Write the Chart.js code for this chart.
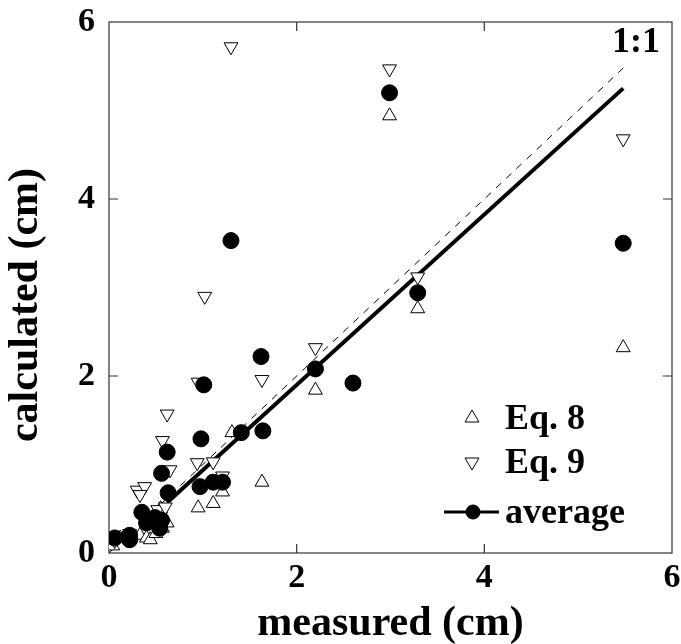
<!DOCTYPE html>
<html>
<head>
<meta charset="utf-8">
<script src="https://cdn.jsdelivr.net/npm/chart.js@4"></script>
<style>
  body { margin: 0; background: #fff; }
  #wrap { width: 681px; height: 644px; }
</style>
</head>
<body>
<div id="wrap"><canvas id="grafico" width="681" height="644"></canvas></div>
<script>
var ctx = document.getElementById('grafico').getContext('2d');

// valores (cm)
var eq8X = [0.04, 0.12, 0.33, 0.40, 0.44, 0.50, 0.57, 0.62, 0.55, 0.95, 1.11, 1.21, 1.31, 1.63, 1.62, 2.20, 2.60, 2.99, 3.29, 5.48];
var eq8Y = [0.08, 0.17, 0.20, 0.17, 0.15, 0.22, 0.28, 0.34, 0.50, 0.51, 0.56, 0.69, 1.36, 0.80, 2.22, 1.84, 1.92, 4.94, 2.76, 2.32];

var eq9X = [0.06, 0.22, 0.30, 0.38, 0.33, 0.52, 0.60, 0.65, 0.57, 0.62, 0.95, 0.94, 1.11, 1.21, 1.02, 1.30, 1.63, 1.62, 2.20, 2.60, 2.99, 3.29, 5.48];
var eq9Y = [0.14, 0.22, 0.71, 0.75, 0.66, 0.49, 0.52, 0.94, 1.27, 1.57, 1.93, 1.02, 1.03, 0.87, 2.90, 5.72, 1.96, 2.22, 2.32, 1.92, 5.47, 3.12, 4.68];

var avgX = [0.06, 0.22, 0.22, 0.35, 0.40, 0.49, 0.56, 0.54, 0.63, 0.56, 0.62, 0.97, 1.11, 1.21, 0.98, 1.01, 1.30, 1.41, 1.64, 1.62, 2.20, 2.60, 2.99, 3.29, 5.48];
var avgY = [0.17, 0.15, 0.20, 0.46, 0.34, 0.40, 0.37, 0.28, 0.68, 0.90, 1.14, 0.75, 0.80, 0.80, 1.29, 1.90, 3.53, 1.36, 1.38, 2.22, 2.08, 1.92, 5.20, 2.94, 3.50];

// reta ajustada e reta 1:1
var fitX = [0.62, 5.48];
var fitY = [0.57, 5.25];
var oneX = [0, 5.5];
var oneY = [0, 5.5];

var tickVals = [0, 2, 4, 6];
var legendLabels = ['Eq. 8', 'Eq. 9', 'average'];
var yTitle = 'calculated (cm)';

function pts(xs, ys) {
  return xs.map(function (x, i) { return { x: x, y: ys[i] }; });
}

var serif = 'Liberation Serif, Times New Roman, serif';

// caixa do gráfico com marcas para dentro
var boxPlugin = {
  id: 'box',
  beforeDatasetsDraw: function (chart) {
    var a = chart.chartArea, c = chart.ctx;
    var sx = chart.scales.x, sy = chart.scales.y;
    c.save();
    c.strokeStyle = '#333';
    c.lineWidth = 1.2;
    c.strokeRect(a.left, a.top, a.right - a.left, a.bottom - a.top);
    [2, 4].forEach(function (v) {
      var px = sx.getPixelForValue(v), py = sy.getPixelForValue(v);
      c.beginPath();
      c.moveTo(px, a.bottom); c.lineTo(px, a.bottom - 9);
      c.moveTo(px, a.top); c.lineTo(px, a.top + 9);
      c.moveTo(a.left, py); c.lineTo(a.left + 9, py);
      c.moveTo(a.right, py); c.lineTo(a.right - 9, py);
      c.stroke();
    });
    c.restore();
  },
  afterDraw: function (chart) {
    var c = chart.ctx;
    c.save();
    c.fillStyle = '#000';
    c.font = 'bold 36px ' + serif;
    c.textBaseline = 'alphabetic';
    c.textAlign = 'right';
    c.fillText('1:1', 660, 52);

    // título do eixo y
    c.save();
    c.font = 'bold 42px ' + serif;
    c.textAlign = 'center';
    c.translate(37, 305);
    c.rotate(-Math.PI / 2);
    c.fillText(yTitle, 0, 0);
    c.restore();

    // legenda
    c.textAlign = 'left';
    c.font = 'bold 36px ' + serif;
    var ys = [418, 462, 512];
    c.strokeStyle = '#000';
    c.lineWidth = 1;
    c.fillStyle = '#fff';
    Chart.helpers.drawPoint(c, { pointStyle: 'triangle', radius: 8, rotation: 0, borderWidth: 1 }, 472, ys[0]);
    Chart.helpers.drawPoint(c, { pointStyle: 'triangle', radius: 8, rotation: 180, borderWidth: 1 }, 472, ys[1]);
    c.lineWidth = 3;
    c.beginPath(); c.moveTo(444, ys[2]); c.lineTo(499, ys[2]); c.stroke();
    c.fillStyle = '#000';
    c.lineWidth = 1;
    Chart.helpers.drawPoint(c, { pointStyle: 'circle', radius: 7, rotation: 0, borderWidth: 1 }, 473, ys[2]);
    c.textBaseline = 'middle';
    legendLabels.forEach(function (t, i) {
      c.fillText(t, 505, ys[i] + 2);
    });
    c.restore();
  }
};

var data = {
  datasets: [
    {
      label: 'average',
      data: pts(avgX, avgY),
      pointStyle: 'circle',
      pointRadius: 8,
      pointBackgroundColor: '#000',
      pointBorderColor: '#000',
      pointBorderWidth: 1,
      showLine: false,
      order: 1
    },
    {
      label: 'Eq. 9',
      data: pts(eq9X, eq9Y),
      pointStyle: 'triangle',
      rotation: 180,
      pointRadius: 8,
      pointBackgroundColor: '#fff',
      pointBorderColor: '#000',
      pointBorderWidth: 1,
      showLine: false,
      order: 2
    },
    {
      label: 'Eq. 8',
      data: pts(eq8X, eq8Y),
      pointStyle: 'triangle',
      pointRadius: 8,
      pointBackgroundColor: '#fff',
      pointBorderColor: '#000',
      pointBorderWidth: 1,
      showLine: false,
      order: 3
    },
    {
      label: 'fit',
      type: 'line',
      data: pts(fitX, fitY),
      borderColor: '#000',
      borderWidth: 4,
      pointRadius: 0,
      fill: false,
      order: 4
    },
    {
      label: '1:1',
      type: 'line',
      data: pts(oneX, oneY),
      borderColor: '#000',
      borderWidth: 1,
      borderDash: [7, 7],
      pointRadius: 0,
      fill: false,
      order: 5
    }
  ]
};

var options = {
  responsive: false,
  animation: false,
  layout: { padding: { top: 22, right: 9, left: 0, bottom: 0 } },
  scales: {
    x: {
      type: 'linear',
      min: 0, max: 6,
      afterBuildTicks: function (s) { s.ticks = tickVals.map(function (v) { return { value: v }; }); },
      afterFit: function (s) { s.height = 91; s.paddingLeft = 0; s.paddingRight = 0; },
      grid: { display: false, drawTicks: false },
      border: { display: false },
      ticks: { color: '#000', padding: 5, maxRotation: 0, font: { family: serif, size: 34, weight: 'bold' } },
      title: { display: true, text: 'measured (cm)', color: '#000', padding: 0, font: { family: serif, size: 42, weight: 'bold', lineHeight: 0.95 } }
    },
    y: {
      type: 'linear',
      min: 0, max: 6,
      afterBuildTicks: function (s) { s.ticks = tickVals.map(function (v) { return { value: v }; }); },
      afterFit: function (s) { s.width = 109; s.paddingTop = 0; s.paddingBottom = 0; },
      grid: { display: false, drawTicks: false },
      border: { display: false },
      ticks: { color: '#000', padding: 14, font: { family: serif, size: 34, weight: 'bold' } },
      title: { display: false }
    }
  },
  plugins: {
    legend: { display: false },
    tooltip: { enabled: false }
  }
};

var myChart = new Chart(ctx, {
  type: 'scatter',
  data: data,
  options: options,
  plugins: [boxPlugin]
});
</script>
</body>
</html>
